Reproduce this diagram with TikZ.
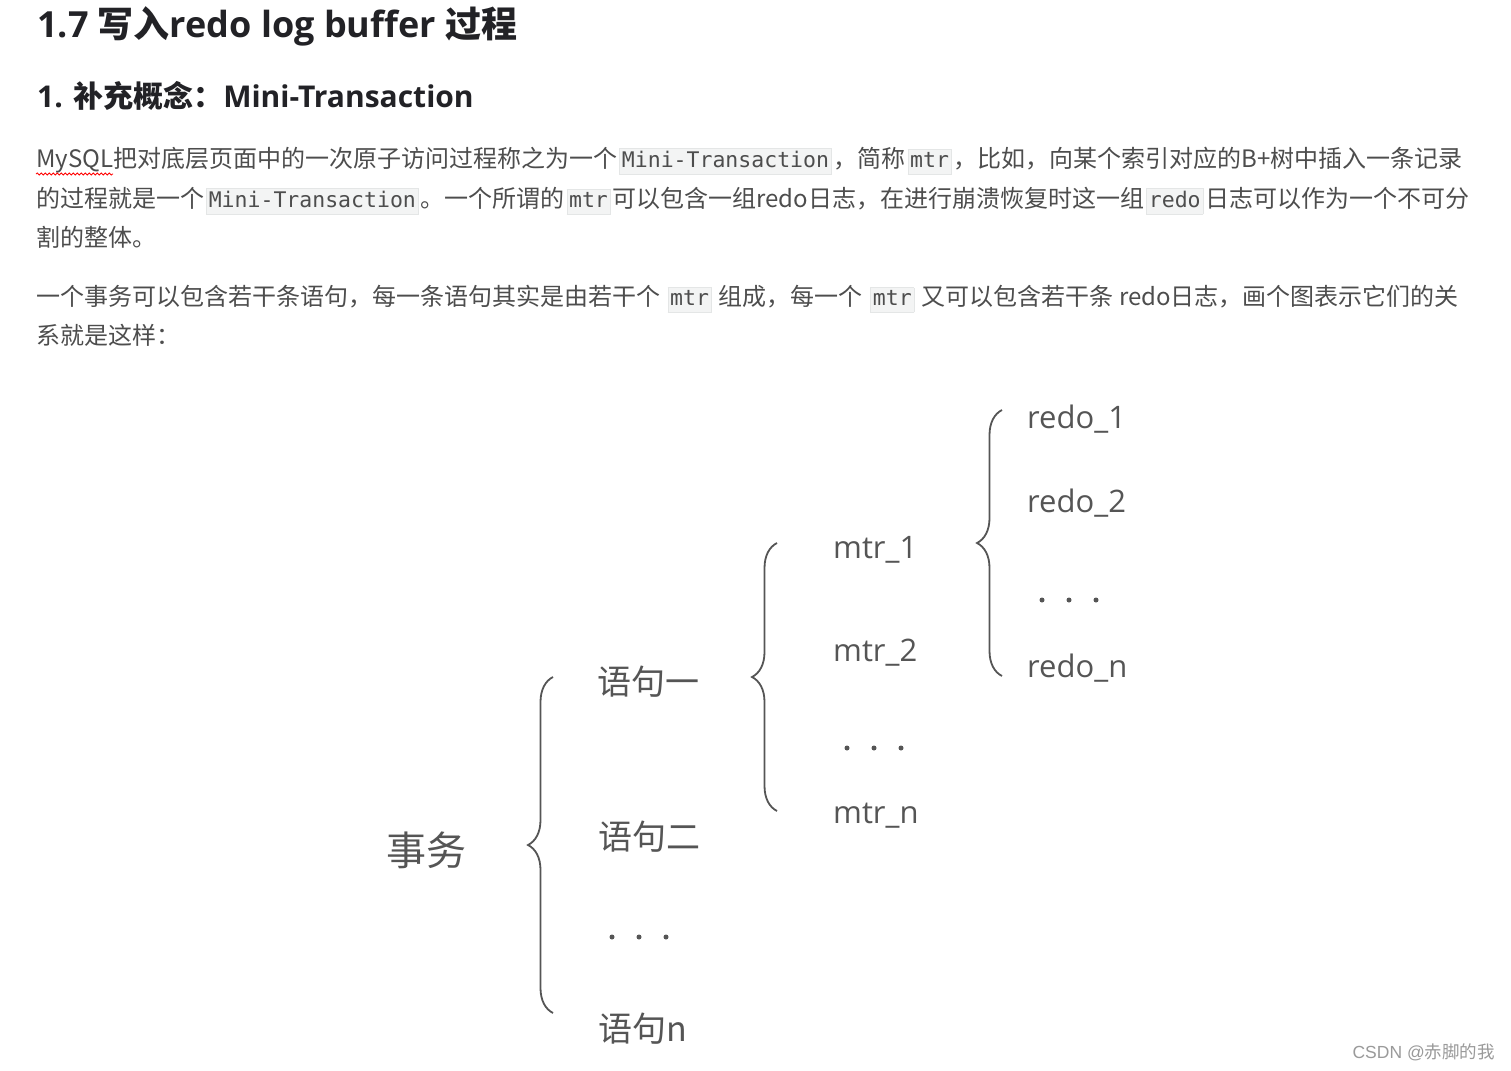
\documentclass[tikz,border=0pt]{standalone}
\usepackage{fontspec}
\setmainfont{Noto Sans CJK SC}
\setmonofont{DejaVu Sans Mono}
\newfontfamily\opensans{Open Sans}
\newfontfamily\arialike{Liberation Sans}
\usetikzlibrary{decorations.pathreplacing,decorations.pathmorphing}

\definecolor{headtext}{HTML}{222226}
\definecolor{bodytext}{HTML}{4D4D4D}
\definecolor{codebg}{HTML}{F3F4F4}
\definecolor{codeline}{HTML}{E4E6E6}
\definecolor{figtext}{HTML}{555555}
\definecolor{marktext}{HTML}{9A9A9A}

% inline code, grey box like the web page
\newcommand{\code}[1]{{\setlength{\fboxsep}{2pt}\setlength{\fboxrule}{0.6pt}%
  \hspace{2pt}\fcolorbox{codeline}{codebg}{\ttfamily\fontsize{21.5}{22}\selectfont\rule[-5pt]{0pt}{18pt}#1}\hspace{2pt}}}

\tikzset{
  bodyline/.style={anchor=base west, inner sep=0, bodytext, font=\fontsize{24}{40}\selectfont},
  fig/.style={figtext, inner sep=0},
  figcjk/.style={fig, anchor=west},
  figlat/.style={fig, anchor=base west, font=\opensans\fontsize{31}{31}\selectfont},
  brc/.style={figtext, line width=1.8pt, decorate, decoration={brace, amplitude=25pt}},
}

\begin{document}
\begin{tikzpicture}[x=1pt,y=-1pt]
  \fill[white] (0,0) rectangle (1511,1070);
  \useasboundingbox (0,0) rectangle (1511,1070);

  % headings
  \node[anchor=base west, inner sep=0, headtext, font=\fontsize{36}{40}\selectfont\bfseries] (title) at (37,38)
    {{\opensans 1.7 }写入{\opensans redo log buffer }过程};
  \node[anchor=base west, inner sep=0, headtext, font=\fontsize{30}{34}\selectfont\bfseries] (sub) at (37,107)
    {{\opensans 1. }补充概念：{\opensans Mini-Transaction}};

  % text
  \node[bodyline] (l1) at (36,167) {MySQL把对底层页面中的一次原子访问过程称之为一个\code{Mini-Transaction}，简称\code{mtr}，比如，向某个索引对应的B+树中插入一条记录};
  \node[bodyline] (l2) at (36,207) {的过程就是一个\code{Mini-Transaction}。一个所谓的\code{mtr}可以包含一组redo日志，在进行崩溃恢复时这一组\code{redo}日志可以作为一个不可分};
  \node[bodyline] (l3) at (36,246) {割的整体。};
  \node[bodyline] (l4) at (36,305) {一个事务可以包含若干条语句，每一条语句其实是由若干个 \code{mtr} 组成，每一个 \code{mtr} 又可以包含若干条 redo日志，画个图表示它们的关};
  \node[bodyline] (l5) at (36,344) {系就是这样：};
  \draw[red, line width=0.8pt, decorate, decoration={snake, amplitude=1pt, segment length=4pt}] (36,174) -- (113,174);

  % the diagram
  \node[figcjk, font=\fontsize{40}{40}\selectfont] (trx) at (386,850) {事务};
  \node[figcjk, font=\fontsize{34}{34}\selectfont] (s1) at (597,682) {语句一};
  \node[figcjk, font=\fontsize{34}{34}\selectfont] (s2) at (598,837) {语句二};
  \node[figcjk, font=\fontsize{34}{34}\selectfont] (sn) at (598,1029) {语句n};

  \node[figlat] (m1) at (833,558) {mtr\_1};
  \node[figlat] (m2) at (833,661) {mtr\_2};
  \node[figlat] (mn) at (833,823) {mtr\_n};

  \node[figlat] (r1) at (1027,428) {redo\_1};
  \node[figlat] (r2) at (1027,512) {redo\_2};
  \node[figlat] (rn) at (1027,677) {redo\_n};

  \foreach \c/\y in {639/937, 874/748, 1069/600}
    \foreach \d in {-27,0,27}
      \fill[figtext] (\c+\d,\y) circle (2.5);

  \coordinate (b1top) at (553,677);
  \coordinate (b1bot) at (553,1013);
  \coordinate (b2top) at (777,543);
  \coordinate (b2bot) at (777,811);
  \coordinate (b3top) at (1002,410);
  \coordinate (b3bot) at (1002,676);
  \draw[brc] (b1bot) -- (b1top);
  \draw[brc] (b2bot) -- (b2top);
  \draw[brc] (b3bot) -- (b3top);

  \node[anchor=east, inner sep=0, marktext, font=\fontsize{17.5}{18}\selectfont] (mark) at (1495,1052)
    {{\arialike CSDN @}赤脚的我};
\end{tikzpicture}
\end{document}
